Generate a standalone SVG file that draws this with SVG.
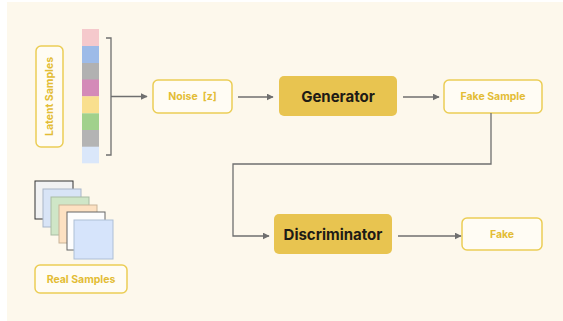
<svg xmlns="http://www.w3.org/2000/svg" width="563" height="321" viewBox="0 0 563 321">
<defs>
<style>
.box{fill:#fffcf4;stroke:#ebcd55;stroke-width:1.5}
.lbl{font-family:Inter,"Noto Sans",sans-serif;font-weight:700;font-size:10.5px;fill:#e3bc35;text-anchor:middle;dominant-baseline:central}
.big{fill:#e8c450}
.bigt{font-family:Inter,"Noto Sans",sans-serif;font-weight:700;font-size:15px;fill:#1e1b16;text-anchor:middle;dominant-baseline:central}
.c{fill:none;stroke:#6f6f6f;stroke-width:1.3}
.sq{stroke-width:1}
</style>
<marker id="ah" viewBox="0 0 10 10" refX="9" refY="5" markerWidth="7" markerHeight="7" markerUnits="userSpaceOnUse" orient="auto">
<path d="M0,0 L10,5 L0,10 z" fill="#6f6f6f"/>
</marker>
</defs>
<rect width="563" height="321" fill="#ffffff"/>
<rect x="7" y="2" width="556" height="319" fill="#fdf8ec"/>

<g id="latent-strip">
<rect x="82" y="29" width="17" height="17" fill="#f5c9cc"/>
<rect x="82" y="46" width="17" height="17" fill="#9dbbe8"/>
<rect x="82" y="63" width="17" height="17" fill="#b1b1b1"/>
<rect x="82" y="79.5" width="17" height="17" fill="#d48ab8"/>
<rect x="82" y="96.3" width="17" height="17" fill="#f9df8e"/>
<rect x="82" y="113.3" width="17" height="17" fill="#a1d18c"/>
<rect x="82" y="130" width="17" height="17" fill="#b4b4b4"/>
<rect x="82" y="146.7" width="17" height="16.6" fill="#dae7fa"/>
</g>

<g id="latent-samples">
<rect class="box" x="36" y="46" width="27" height="101" rx="5"/>
<text class="lbl" transform="translate(49.5 96.5) rotate(-90)">Latent Samples</text>
</g>

<g id="real-stack">
<rect class="sq" x="35" y="181" width="38" height="38" fill="#f1f2f3" stroke="#333333" stroke-width="1.4"/>
<rect class="sq" x="43" y="189" width="38" height="38" fill="#d8e4f6" stroke="#a9b6c8"/>
<rect class="sq" x="51" y="197" width="38" height="38" fill="#cfe6c7" stroke="#a9bca3"/>
<rect class="sq" x="59" y="205" width="38" height="38" fill="#fde1c2" stroke="#c9b397"/>
<rect class="sq" x="67" y="212" width="38" height="38" fill="#fdfdfd" stroke="#666666"/>
<rect class="sq" x="74" y="220" width="39" height="39" fill="#d6e4fb" stroke="#aebfd6"/>
</g>

<g id="real-samples">
<rect class="box" x="35" y="265" width="92" height="28" rx="5"/>
<text class="lbl" x="81" y="279.5">Real Samples</text>
</g>

<g id="noise">
<rect class="box" x="153" y="80" width="79" height="33" rx="5"/>
<text class="lbl" x="192.5" y="96.5" xml:space="preserve">Noise  [z]</text>
</g>

<g id="generator">
<rect class="big" x="279" y="76" width="118" height="40" rx="5"/>
<text class="bigt" x="338" y="96.5">Generator</text>
</g>

<g id="fake-sample">
<rect class="box" x="444" y="80" width="98" height="33" rx="5"/>
<text class="lbl" x="493" y="96.5">Fake Sample</text>
</g>

<g id="discriminator">
<rect class="big" x="274" y="214" width="118" height="40" rx="5"/>
<text class="bigt" x="333" y="234.5">Discriminator</text>
</g>

<g id="fake">
<rect class="box" x="462" y="218" width="80" height="32" rx="5"/>
<text class="lbl" x="502" y="234">Fake</text>
</g>

<g id="connectors">
<path class="c" d="M106,38 H111 V155 H106"/>
<path class="c" d="M111,96.5 H147" marker-end="url(#ah)"/>
<path class="c" d="M238,97 H273" marker-end="url(#ah)"/>
<path class="c" d="M403,97 H439" marker-end="url(#ah)"/>
<path class="c" d="M491,113 V164 H233 V236 H269" marker-end="url(#ah)"/>
<path class="c" d="M398,236 H461" marker-end="url(#ah)"/>
</g>
</svg>
